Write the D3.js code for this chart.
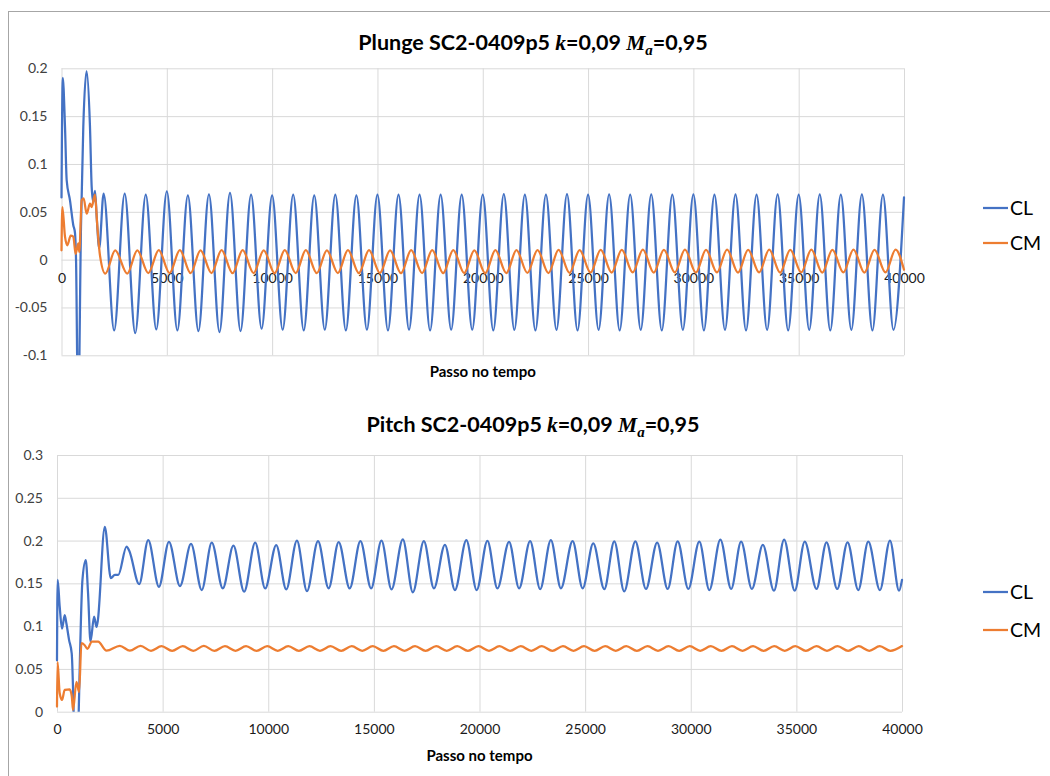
<!DOCTYPE html>
<html>
<head>
<meta charset="utf-8">
<script src="https://cdn.jsdelivr.net/npm/d3@7"></script>
<style>
  body { margin: 0; background: #fff; }
  svg { display: block; font-family: Lato, "Open Sans", "Liberation Sans", sans-serif; }
</style>
</head>
<body>
<svg id="chart" width="1050" height="776"></svg>
<script>
// ---------- shared axis data ----------
const timeTicks = [0, 5000, 10000, 15000, 20000, 25000, 30000, 35000, 40000];
const plungeYTicks = [-0.1, -0.05, 0, 0.05, 0.1, 0.15, 0.2];
const pitchYTicks = [0, 0.05, 0.1, 0.15, 0.2, 0.25, 0.3];
const seriesNames = ["CL", "CM"];
const xAxisTitle = "Passo no tempo";

// ---------- Plunge case: [time step, coefficient] at turning points ----------
const plungeCL = [
  [0, 0.065], [60, 0.19], [166, 0.139], [246, 0.083], [403, 0.062], [560, 0.036],
  [640, 0.028], [690, 0.0], [790, -0.17], [925, 0.034], [1035, 0.139], [1190, 0.197],
  [1352, 0.139], [1433, 0.076], [1510, 0.060], [1590, 0.072], [1670, 0.045], [1790, 0.012],
  [2000, 0.069], [2500, -0.074], [3000, 0.069], [3500, -0.0768], [4000, 0.068], [4500, -0.073],
  [5000, 0.0714], [5500, -0.074], [6000, 0.0673], [6500, -0.0747], [7000, 0.0683], [7500, -0.0757],
  [8000, 0.0697], [8500, -0.0747], [9000, 0.068], [9500, -0.0722], [10000, 0.0673], [10500, -0.0732],
  [11000, 0.068], [11500, -0.074], [12000, 0.0673], [12500, -0.0732], [13000, 0.068], [13500, -0.074],
  [14000, 0.0673], [14500, -0.0732], [15000, 0.068], [15500, -0.074], [16000, 0.068], [16500, -0.0732],
  [17000, 0.068], [17500, -0.074], [18000, 0.068], [18500, -0.0732], [19000, 0.068], [19500, -0.0732],
  [20000, 0.068], [20500, -0.074], [21000, 0.0685], [21500, -0.0735], [22000, 0.068], [22500, -0.074],
  [23000, 0.068], [23500, -0.0735], [24000, 0.0685], [24500, -0.074], [25000, 0.068], [25500, -0.0735],
  [26000, 0.0683], [26500, -0.074], [27000, 0.068], [27500, -0.0735], [28000, 0.0683], [28500, -0.074],
  [29000, 0.068], [29500, -0.0735], [30000, 0.0683], [30500, -0.074], [31000, 0.068], [31500, -0.0735],
  [32000, 0.0683], [32500, -0.074], [33000, 0.068], [33500, -0.0735], [34000, 0.0683], [34500, -0.074],
  [35000, 0.068], [35500, -0.0735], [36000, 0.0683], [36500, -0.074], [37000, 0.068], [37500, -0.0735],
  [38000, 0.0683], [38500, -0.074], [39000, 0.068], [39500, -0.0735], [40000, 0.065]
];

const plungeCM = [
  [0, 0.0097], [40, 0.055], [166, 0.024], [275, 0.015], [436, 0.025], [560, 0.024],
  [672, 0.006], [797, 0.017], [845, 0.008], [958, 0.062], [1050, 0.064], [1195, 0.048],
  [1352, 0.0586], [1433, 0.055], [1590, 0.068], [1700, 0.035], [1830, 0.004],
  [2080, -0.0146], [2550, 0.0097], [3120, -0.0146], [3600, 0.0097], [4120, -0.014], [4620, 0.0099],
  [5130, -0.014], [5620, 0.0099], [6130, -0.0142], [6600, 0.0097], [7120, -0.014], [7600, 0.0099],
  [8120, -0.0142], [8600, 0.0099], [9120, -0.014], [9600, 0.0097], [10120, -0.0142], [10600, 0.0099],
  [11120, -0.014], [11600, 0.0099], [12120, -0.0142], [12600, 0.0097], [13120, -0.014], [13600, 0.0099],
  [14120, -0.0142], [14600, 0.0099], [15120, -0.014], [15600, 0.0097], [16120, -0.0142], [16600, 0.0099],
  [17120, -0.014], [17600, 0.0099], [18120, -0.0142], [18600, 0.0099], [19120, -0.014], [19600, 0.0097],
  [20120, -0.0142], [20600, 0.0099], [21120, -0.014], [21600, 0.0099], [22120, -0.0138], [22600, 0.01],
  [23120, -0.014], [23600, 0.0101], [24120, -0.0138], [24600, 0.01], [25120, -0.0135], [25600, 0.0103],
  [26120, -0.0135], [26600, 0.0103], [27120, -0.0133], [27600, 0.0105], [28120, -0.0135], [28600, 0.0103],
  [29120, -0.0133], [29600, 0.0105], [30120, -0.0135], [30600, 0.0103], [31120, -0.0133], [31600, 0.0105],
  [32120, -0.0135], [32600, 0.0103], [33120, -0.0133], [33600, 0.0105], [34120, -0.0135], [34600, 0.0103],
  [35120, -0.0133], [35600, 0.0105], [36120, -0.0135], [36600, 0.0103], [37120, -0.0133], [37600, 0.0105],
  [38120, -0.0135], [38600, 0.0103], [39120, -0.0133], [39600, 0.0105], [40000, -0.0105]
];

// ---------- Pitch case ----------
const pitchCL = [
  [0, 0.06], [30, 0.154], [128, 0.1227], [237, 0.097], [365, 0.113], [446, 0.103],
  [570, 0.084], [697, 0.068], [900, -0.08], [1205, 0.154], [1362, 0.177], [1471, 0.138],
  [1585, 0.082], [1756, 0.111], [1870, 0.099], [1930, 0.106], [2263, 0.216], [2548, 0.156],
  [2738, 0.16], [2900, 0.16], [3293, 0.193], [3420, 0.188], [3891, 0.149], [4318, 0.2006],
  [4826, 0.146], [5300, 0.1986], [5822, 0.1468], [6344, 0.196], [6851, 0.1422], [7326, 0.1975],
  [7848, 0.1441], [8351, 0.194], [8859, 0.1402], [9381, 0.1975], [9855, 0.1441], [10377, 0.1947],
  [10852, 0.143], [11358, 0.1998], [11833, 0.141], [12355, 0.1994], [12860, 0.1441], [13333, 0.1983],
  [13856, 0.1441], [14363, 0.1994], [14869, 0.1441], [15360, 0.1998], [15835, 0.143], [16370, 0.2014],
  [16845, 0.1395], [17366, 0.1994], [17842, 0.1441], [18363, 0.1951], [18838, 0.1422], [19378, 0.2006],
  [19867, 0.1422], [20375, 0.1996], [20849, 0.1441], [21400, 0.1986], [21875, 0.1441], [22396, 0.1994],
  [22871, 0.1433], [23378, 0.2006], [23853, 0.1441], [24408, 0.1994], [24883, 0.1441], [25385, 0.1967],
  [25907, 0.1432], [26381, 0.1992], [26850, 0.1406], [27378, 0.1992], [27880, 0.1434], [28409, 0.1977],
  [28908, 0.1434], [29381, 0.1992], [29886, 0.1434], [30405, 0.1988], [30882, 0.1422], [31402, 0.2012],
  [31912, 0.1434], [32384, 0.1988], [32894, 0.1434], [33413, 0.1949], [33938, 0.1414], [34420, 0.2012],
  [34921, 0.1414], [35397, 0.1988], [35951, 0.1434], [36427, 0.198], [36934, 0.1434], [37423, 0.198],
  [37930, 0.1422], [38404, 0.1988], [38955, 0.1422], [39430, 0.2], [39860, 0.1414], [40000, 0.154]
];

const pitchCM = [
  [0, 0.006], [25, 0.058], [128, 0.0215], [237, 0.0137], [365, 0.0254], [602, 0.026],
  [700, 0.018], [760, 0.002], [920, 0.035], [1045, 0.023], [1157, 0.080], [1300, 0.078],
  [1442, 0.0735], [1650, 0.082], [1945, 0.0818], [2344, 0.0713], [2975, 0.077], [3450, 0.0713],
  [3957, 0.077], [4450, 0.0712], [4950, 0.0766], [5450, 0.0711], [5950, 0.0766], [6450, 0.0712],
  [6950, 0.0768], [7450, 0.0711], [7950, 0.0766], [8450, 0.0712], [8950, 0.0766], [9450, 0.0711],
  [9950, 0.0766], [10450, 0.0712], [10950, 0.0766], [11450, 0.0711], [11950, 0.0766], [12450, 0.0712],
  [12950, 0.0766], [13450, 0.0711], [13950, 0.0766], [14450, 0.0712], [14950, 0.0766], [15450, 0.0711],
  [15950, 0.0766], [16450, 0.0712], [16950, 0.0766], [17450, 0.0711], [17950, 0.0766], [18450, 0.0712],
  [18950, 0.0766], [19450, 0.0711], [19950, 0.0766], [20450, 0.0712], [20950, 0.0766], [21450, 0.0711],
  [21950, 0.0766], [22450, 0.0712], [22950, 0.0766], [23450, 0.0711], [23950, 0.0766], [24450, 0.0712],
  [24950, 0.0766], [25450, 0.0711], [25950, 0.0766], [26450, 0.0712], [26950, 0.0766], [27450, 0.0711],
  [27950, 0.0766], [28450, 0.0712], [28950, 0.0766], [29450, 0.0711], [29950, 0.0766], [30450, 0.0712],
  [30950, 0.0766], [31450, 0.0711], [31950, 0.0766], [32450, 0.0712], [32950, 0.0766], [33450, 0.0711],
  [33950, 0.0766], [34450, 0.0712], [34950, 0.0766], [35450, 0.0711], [35950, 0.0766], [36450, 0.0712],
  [36950, 0.0766], [37450, 0.0711], [37950, 0.0766], [38450, 0.0712], [38950, 0.0766], [39450, 0.0711],
  [40000, 0.0767]
];

// ---------- styling ----------
const colors = { CL: "#4472C4", CM: "#ED7D31" };
const gridColor = "#d9d9d9";
const tickColor = "#404040";

const svg = d3.select("#chart");

// outer frame
svg.append("rect")
  .attr("x", 8.5).attr("y", 11.5)
  .attr("width", 1100).attr("height", 800)
  .attr("fill", "none").attr("stroke", "#a6a6a6").attr("stroke-width", 1);

function drawPanel(cfg) {
  const g = svg.append("g");
  const x = d3.scaleLinear().domain([0, 40000]).range([cfg.left, cfg.right]);
  const y = d3.scaleLinear().domain(cfg.yDomain).range([cfg.bottom, cfg.top]);

  // horizontal gridlines + y labels
  const yAxis = d3.axisLeft(y).tickValues(cfg.yTicks)
    .tickSize(-(cfg.right - cfg.left)).tickPadding(cfg.yLabelPad)
    .tickFormat(d => String(+d.toFixed(2)));
  const yg = g.append("g").attr("transform", `translate(${cfg.left},0)`).call(yAxis);
  yg.select(".domain").remove();
  yg.selectAll(".tick line").attr("stroke", gridColor).attr("stroke-width", 1);
  yg.selectAll(".tick text").attr("fill", tickColor).attr("font-size", 14)
    .attr("font-family", "Lato, sans-serif");

  // vertical gridlines
  const xGrid = d3.axisBottom(x).tickValues(timeTicks)
    .tickSize(-(cfg.bottom - cfg.top)).tickFormat("");
  const xg = g.append("g").attr("transform", `translate(0,${cfg.bottom})`).call(xGrid);
  xg.select(".domain").remove();
  xg.selectAll(".tick line").attr("stroke", gridColor).attr("stroke-width", 1);

  // x labels placed at the zero line
  const xLab = d3.axisBottom(x).tickValues(timeTicks).tickSize(0).tickPadding(cfg.xLabelPad)
    .tickFormat(d3.format("d"));
  const xl = g.append("g").attr("transform", `translate(0,${y(0)})`).call(xLab);
  xl.select(".domain").remove();
  xl.selectAll(".tick text").attr("fill", "#1a1a1a").attr("font-size", 14)
    .attr("font-family", "Lato, sans-serif");

  // clip region for the curves
  const clipId = "clip-" + cfg.id;
  svg.append("defs").append("clipPath").attr("id", clipId)
    .append("rect").attr("x", cfg.left - 2).attr("y", cfg.top - 2)
    .attr("width", cfg.right - cfg.left + 4).attr("height", cfg.bottom - cfg.top + 2);

  const line = d3.line().x(d => x(d[0])).y(d => y(d[1])).curve(d3.curveMonotoneX);
  const lines = g.append("g").attr("clip-path", `url(#${clipId})`);
  cfg.series.forEach(s => {
    lines.append("path").datum(s.data)
      .attr("fill", "none").attr("stroke", colors[s.name])
      .attr("stroke-width", 2.25).attr("stroke-linejoin", "round").attr("stroke-linecap", "round")
      .attr("d", line);
  });

  // title
  const t = g.append("text").attr("x", cfg.titleX).attr("y", cfg.titleY)
    .attr("text-anchor", "middle").attr("font-size", 21.5).attr("font-weight", "bold")
    .attr("fill", "#000");
  t.append("tspan").text(cfg.titleLead + " ");
  const serif = "'Liberation Serif', 'DejaVu Serif', serif";
  t.append("tspan").attr("font-style", "italic").attr("font-family", serif).text("k");
  t.append("tspan").text("=0,09 ");
  t.append("tspan").attr("font-style", "italic").attr("font-family", serif).text("M");
  t.append("tspan").attr("font-style", "italic").attr("font-family", serif)
    .attr("font-size", 15).attr("dy", 5).text("a");
  t.append("tspan").attr("dy", -5).text("=0,95");

  // axis title
  g.append("text").attr("x", (cfg.left + cfg.right) / 2).attr("y", cfg.axisTitleY)
    .attr("text-anchor", "middle").attr("font-size", 15).attr("font-weight", "bold")
    .attr("fill", "#000").text(xAxisTitle);

  // legend
  cfg.series.forEach((s, i) => {
    const ly = cfg.legendY[i];
    g.append("line").attr("x1", 983).attr("x2", 1008).attr("y1", ly).attr("y2", ly)
      .attr("stroke", colors[s.name]).attr("stroke-width", 2.25);
    g.append("text").attr("x", 1010).attr("y", ly).attr("dy", "0.36em")
      .attr("font-size", 19.5).attr("fill", "#000").text(s.name);
  });
}

drawPanel({
  id: "plunge", left: 61.5, right: 904, top: 68.3, bottom: 355.3,
  yDomain: [-0.1, 0.2], yTicks: plungeYTicks, xLabelPad: 13, yLabelPad: 14,
  series: [{ name: seriesNames[0], data: plungeCL }, { name: seriesNames[1], data: plungeCM }],
  titleLead: "Plunge SC2-0409p5", titleX: 533, titleY: 50, axisTitleY: 377,
  legendY: [208, 243]
});

drawPanel({
  id: "pitch", left: 57, right: 902, top: 455, bottom: 711.7,
  yDomain: [0, 0.3], yTicks: pitchYTicks, xLabelPad: 12, yLabelPad: 14,
  series: [{ name: seriesNames[0], data: pitchCL }, { name: seriesNames[1], data: pitchCM }],
  titleLead: "Pitch SC2-0409p5", titleX: 533, titleY: 432, axisTitleY: 761,
  legendY: [592, 630]
});
</script>
</body>
</html>
